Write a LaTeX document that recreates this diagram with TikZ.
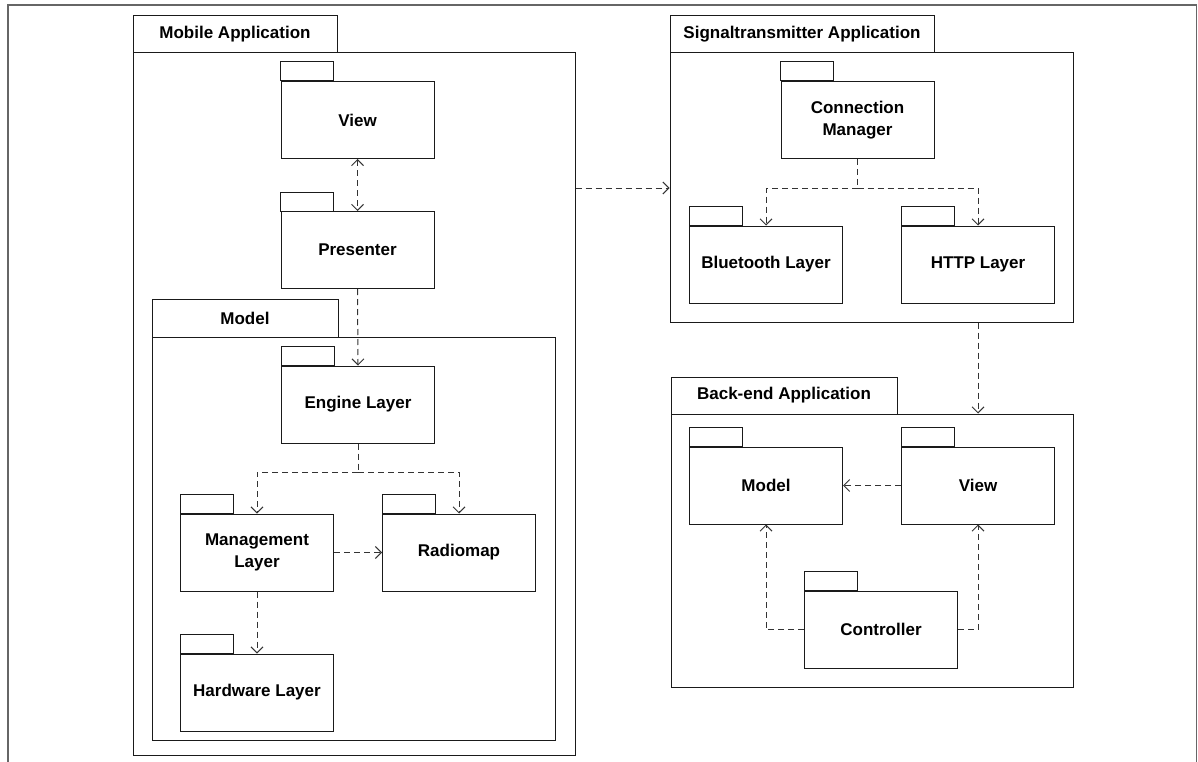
\documentclass[tikz,border=0pt]{standalone}
\usepackage{fontspec}
\setmainfont{Liberation Sans}
\usetikzlibrary{arrows.meta,calc}

\definecolor{frame}{HTML}{666666}
\definecolor{ink}{HTML}{1A1A1A}
\definecolor{dep}{HTML}{333333}

\tikzset{
  pkgbody/.style={draw=ink, line width=1pt, fill=white, minimum width=153pt,
    minimum height=77pt, inner sep=0pt, align=center,
    font=\fontsize{17}{21.5}\selectfont\bfseries},
  container/.style={draw=ink, line width=1pt, inner sep=0pt},
  tabtext/.style={draw=ink, line width=1pt, inner sep=0pt,
    font=\fontsize{17}{21.5}\selectfont\bfseries},
  deparrow/.style={draw=dep, line width=1pt, dash pattern=on 6pt off 4pt,
    -{Straight Barb[length=6pt,width=12pt,line width=1pt]}},
  depline/.style={draw=dep, line width=1pt, dash pattern=on 6pt off 4pt}
}

% package body with its small folder tab on the top-left corner
\newcommand\packagenode[3]{%
  \node[pkgbody] (#1) at (#2) {#3};
  \draw[ink, line width=1pt] (#1.north west) rectangle ++(53,-19);
}

\begin{document}
\begin{tikzpicture}[x=1pt, y=-1pt]
\useasboundingbox (0,0) rectangle (1198,762);

% outer frame, open at the bottom
\draw[frame, line width=1.2pt] (8,770) -- (8,5) -- (1196.5,5) -- (1196.5,770);

% ---------------- Mobile Application ----------------
\node[tabtext, minimum width=204pt, minimum height=37pt] (mobiletab) at (235,34.5) {Mobile Application};
\node[container, minimum width=442pt, minimum height=702pt] (mobile) at (354,404) {};

\packagenode{view}{357.5,120}{View}
\packagenode{presenter}{357.5,250}{Presenter}

% Model sub-package
\node[tabtext, minimum width=186pt, minimum height=38pt] (modeltab) at (245,318) {Model};
\node[container, minimum width=403pt, minimum height=403pt] (model) at (353.5,538.5) {};

\packagenode{engine}{358,404.5}{Engine Layer}
\packagenode{management}{257,552.5}{Management\\Layer}
\packagenode{radiomap}{459,552.5}{Radiomap}
\packagenode{hardware}{257,692.5}{Hardware Layer}

\coordinate (enginebranch) at (358,472);

% ---------------- Signaltransmitter Application ----------------
\node[tabtext, minimum width=264pt, minimum height=37pt] (signaltab) at (802,34.5) {Signaltransmitter Application};
\node[container, minimum width=403pt, minimum height=269pt] (signal) at (871.5,187.5) {};

\packagenode{cm}{857.5,120}{Connection\\Manager}
\packagenode{bluetooth}{766,264.5}{Bluetooth Layer}
\packagenode{http}{978,264.5}{HTTP Layer}

\coordinate (cmbranch) at (857.5,188);

% ---------------- Back-end Application ----------------
\node[tabtext, minimum width=226pt, minimum height=37pt] (backendtab) at (784,395.5) {Back-end Application};
\node[container, minimum width=402pt, minimum height=273pt] (backend) at (872,550.5) {};

\packagenode{bmodel}{766,485.5}{Model}
\packagenode{bview}{978,485.5}{View}
\packagenode{controller}{881,629.5}{Controller}

% ---------------- dependencies ----------------
\draw[deparrow, {Straight Barb[length=6pt,width=12pt,line width=1pt]}-{Straight Barb[length=6pt,width=12pt,line width=1pt]}]
  (view.south) -- (presenter.north);
\draw[deparrow] (presenter.south) -- (engine.north);

\draw[depline] (engine.south) -- (enginebranch);
\draw[deparrow] (enginebranch) -| (management.north);
\draw[deparrow] (enginebranch) -| (radiomap.north);
\draw[deparrow] (management.east) -- (radiomap.west);
\draw[deparrow] (management.south) -- (hardware.north);

\draw[deparrow] (mobile.east |- cmbranch) -- (signal.west |- cmbranch);

\draw[depline] (cm.south) -- (cmbranch);
\draw[deparrow] (cmbranch) -| (bluetooth.north);
\draw[deparrow] (cmbranch) -| (http.north);

\draw[deparrow] (signal.south -| http.south) -- (backend.north -| http.south);

\draw[deparrow] (bview.west) -- (bmodel.east);
\draw[deparrow] (controller.west) -| (bmodel.south);
\draw[deparrow] (controller.east) -| (bview.south);
\end{tikzpicture}
\end{document}
